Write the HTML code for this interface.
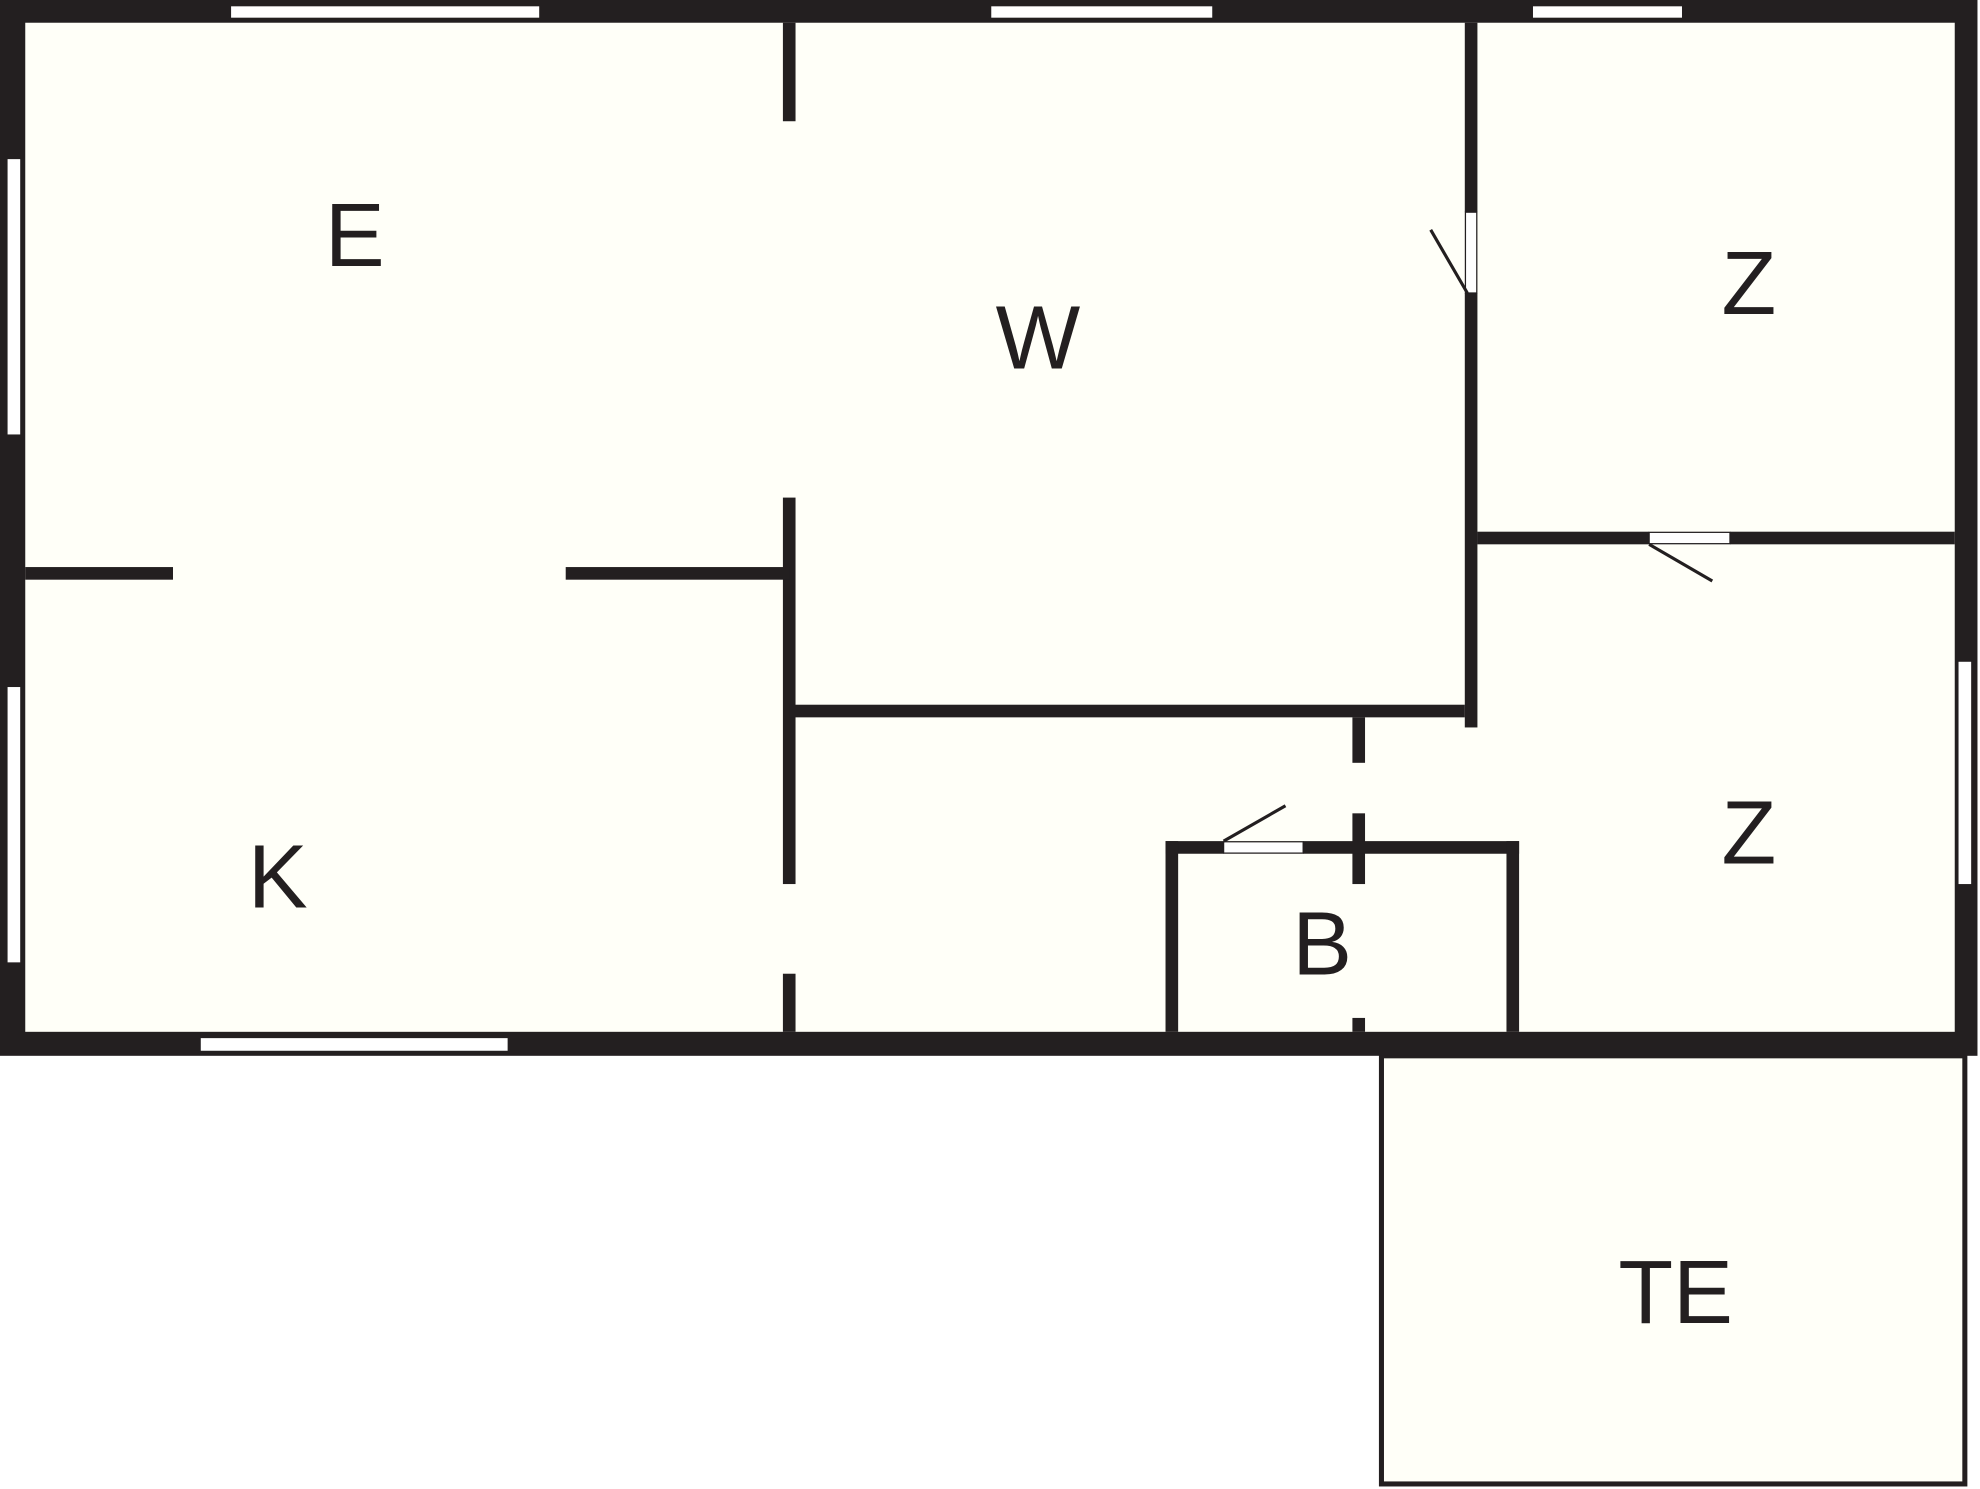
<!DOCTYPE html>
<html><head><meta charset="utf-8"><style>
html,body{margin:0;padding:0;background:#fff;}
svg{display:block;}
text{font-family:"Liberation Sans",sans-serif;font-size:71px;fill:#231f20;text-anchor:middle;dominant-baseline:central;}
</style></head><body>
<svg width="1980" height="1489" viewBox="0 0 1568 1179" preserveAspectRatio="none" xmlns="http://www.w3.org/2000/svg">
<rect x="0" y="0" width="1568" height="1179" fill="#fff"/>
<rect x="1094" y="836" width="462" height="339" fill="#fffff8" stroke="#231f20" stroke-width="4"/>
<rect x="0" y="0" width="1566" height="836" fill="#231f20"/>
<rect x="20" y="18" width="1528" height="799" fill="#fffff8"/>
<g fill="#fff">
<rect x="183" y="5" width="244" height="9"/>
<rect x="785" y="5" width="175" height="9"/>
<rect x="1214" y="5" width="118" height="9"/>
<rect x="6" y="126" width="10" height="218"/>
<rect x="6" y="544" width="10" height="218"/>
<rect x="1551" y="524" width="10" height="176"/>
<rect x="159" y="822" width="243" height="10"/>
</g>
<g fill="#231f20">
<rect x="620" y="18" width="10" height="78"/>
<rect x="620" y="394" width="10" height="306"/>
<rect x="620" y="771" width="10" height="46"/>
<rect x="20" y="449" width="117" height="10"/>
<rect x="448" y="449" width="177" height="10"/>
<rect x="625" y="558" width="535" height="10"/>
<rect x="1160" y="18" width="10" height="150"/>
<rect x="1160" y="232" width="10" height="344"/>
<rect x="1170" y="421" width="136" height="10"/>
<rect x="1370" y="421" width="178" height="10"/>
<rect x="1071" y="568" width="10" height="36"/>
<rect x="1071" y="644" width="10" height="56"/>
<rect x="1071" y="806" width="10" height="11"/>
<rect x="923" y="666" width="46" height="10"/>
<rect x="1032" y="666" width="171" height="10"/>
<rect x="923" y="666" width="10" height="151"/>
<rect x="1193" y="666" width="10" height="151"/>
</g>
<g fill="#fff" stroke="#231f20" stroke-width="1">
<rect x="1160.5" y="168" width="9" height="64"/>
<rect x="1306" y="421.5" width="64" height="9"/>
<rect x="969" y="666.5" width="63" height="9"/>
</g>
<g stroke="#231f20" stroke-width="2.5">
<line x1="1162" y1="232" x2="1133" y2="182"/>
<line x1="1306" y1="431" x2="1356" y2="460"/>
<line x1="969" y1="666" x2="1018" y2="638"/>
</g>
<text x="281" y="187">E</text>
<text x="822" y="268">W</text>
<text x="1385" y="225">Z</text>
<text x="1385" y="660">Z</text>
<text x="220" y="695">K</text>
<text x="1047" y="748">B</text>
<text x="1327" y="1024">TE</text>
</svg>
</body></html>
